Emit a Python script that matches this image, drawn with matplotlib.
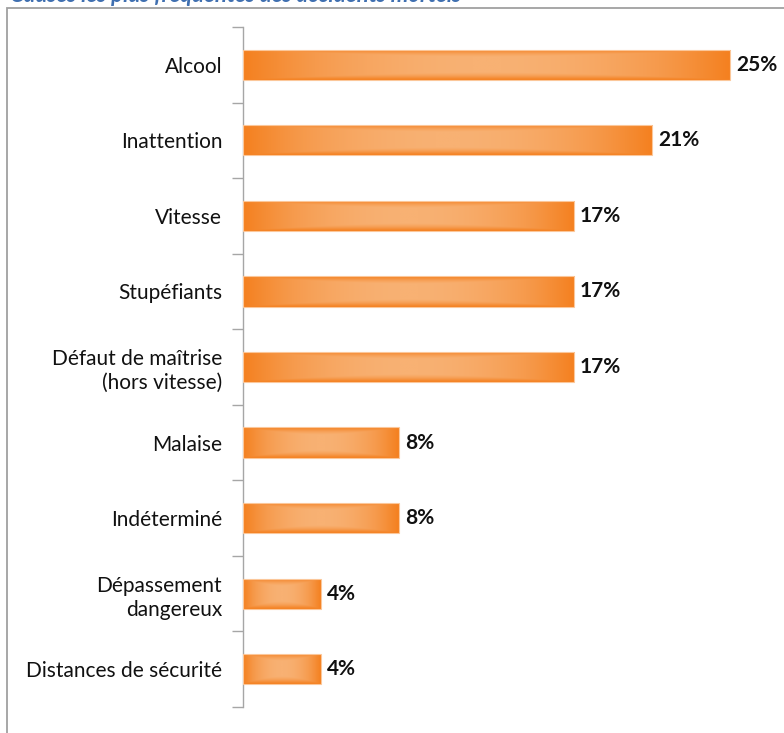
import numpy as np
import matplotlib
matplotlib.use("Agg")
import matplotlib.pyplot as plt
from matplotlib.patches import Rectangle
from matplotlib.colors import LinearSegmentedColormap

categories = ["Alcool", "Inattention", "Vitesse", "Stupéfiants",
              "Défaut de maîtrise\n(hors vitesse)", "Malaise", "Indéterminé",
              "Dépassement\ndangereux", "Distances de sécurité"]
values = [25, 21, 17, 17, 17, 8, 8, 4, 4]
value_labels = ["25%", "21%", "17%", "17%", "17%", "8%", "8%", "4%", "4%"]
title = "Causes les plus fréquentes des accidents mortels"

plt.rcParams['font.family'] = ['Lato', 'DejaVu Sans']

fig = plt.figure(figsize=(7.84, 7.33), dpi=100)
W, H = 784, 733
ax = fig.add_axes([243 / W, 26 / H, 527 / W, 680 / H])

n = len(categories)
ypos = np.arange(n)
bar_h = 0.40
ax.set_ylim(n - 0.5, -0.5)
ax.set_xlim(0, 27.05)

cmap = LinearSegmentedColormap.from_list("og", ["#F8B173", "#F69A4C", "#F4801F"])
gx = np.linspace(-1, 1, 300)
gy = np.linspace(-1, 1, 40)
GX, GY = np.meshgrid(gx, gy)

for y, v in zip(ypos, values):
    bars = ax.barh(y, v, height=bar_h, color="#F58220", edgecolor="none", zorder=2)
    patch = bars[0]
    ex = np.clip(np.abs(GX) ** 2.0, 0, 1)
    ey = np.clip((np.abs(GY) - 0.5) / 0.5, 0, 1) ** 1.3
    t = np.maximum(ex, ey)
    im = ax.imshow(t, cmap=cmap, vmin=0, vmax=1, aspect="auto",
                   extent=(0, v, y + bar_h / 2, y - bar_h / 2),
                   interpolation="bilinear", zorder=3)
    im.set_clip_path(patch)
    ax.add_patch(Rectangle((0, y - bar_h / 2), v, bar_h, fill=False,
                           edgecolor="#FBC79A", linewidth=0.8, zorder=4))

for y, v, lab in zip(ypos, values, value_labels):
    ax.text(v + 0.3, y, lab, va="center", ha="left", fontsize=15,
            fontweight="bold", color="#111111", zorder=5)

ax.set_yticks(ypos)
ax.set_yticklabels(categories, fontsize=15, color="#111111",
                   linespacing=1.25, ha="right")
ax.tick_params(axis="y", which="major", length=0, pad=15)
ax.set_yticks(np.arange(n + 1) - 0.5, minor=True)
ax.tick_params(axis="y", which="minor", length=8, width=1, color="#A6A6A6",
               direction="out")
ax.set_xticks([])
for s in ["top", "right", "bottom"]:
    ax.spines[s].set_visible(False)
ax.spines["left"].set_color("#A6A6A6")
ax.spines["left"].set_linewidth(1)

# outer frame (extends beyond the image)
fig.patches.append(Rectangle((6.5 / W, -0.1), 1.2, 1 - 8.5 / H + 0.1,
                             transform=fig.transFigure, fill=False,
                             edgecolor="#A0A0A0", linewidth=1.3))
# title, mostly above the visible area as in the reference
fig.text(10 / W, 1 - 1.5 / H, title, ha="left", va="baseline", fontsize=16,
         fontstyle="italic", fontweight="bold", color="#3F6FB0")

fig.savefig("out.png", dpi=100)
